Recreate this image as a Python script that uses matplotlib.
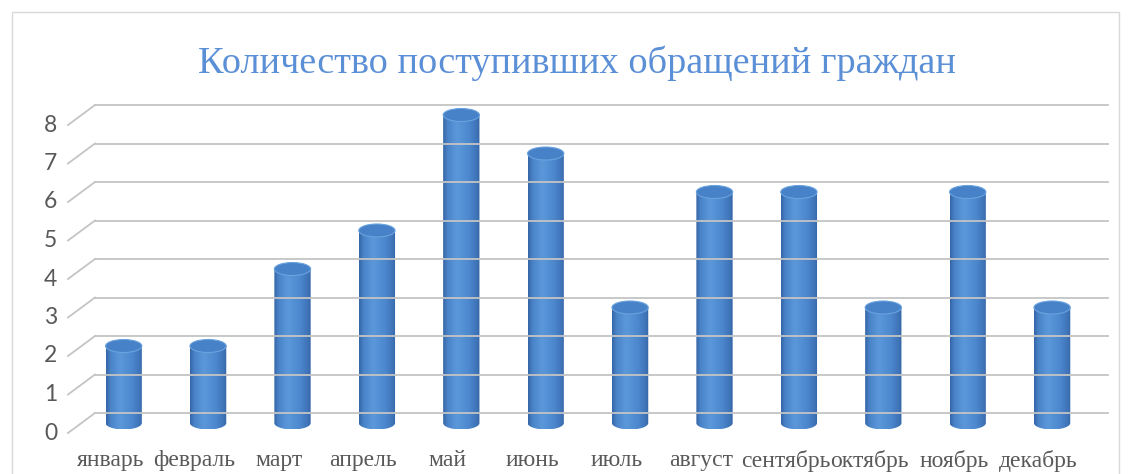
import numpy as np
import matplotlib
matplotlib.use('Agg')
import matplotlib.pyplot as plt
from matplotlib import transforms
from matplotlib.patches import PathPatch, Ellipse, Rectangle
from matplotlib.path import Path
from matplotlib.lines import Line2D
from matplotlib.colors import LinearSegmentedColormap

# данные
months = ['январь', 'февраль', 'март', 'апрель', 'май', 'июнь',
          'июль', 'август', 'сентябрь', 'октябрь', 'ноябрь', 'декабрь']
counts = [2, 2, 4, 5, 8, 7, 3, 6, 6, 3, 6, 3]
y_ticks = [0, 1, 2, 3, 4, 5, 6, 7, 8]
title = 'Количество поступивших обращений граждан'

W, H = 1130, 474
fig = plt.figure(figsize=(W / 100, H / 100), dpi=100)

# размещение осей в пикселях
ux, uy = 84.4, 38.5
x_lo, x_hi = -0.9, 11.9
y_lo, y_hi = -0.8, 8.9
left_px = 68 + (x_lo + 0.5) * ux
bottom_px = 41 + y_lo * uy
ax = fig.add_axes([left_px / W, bottom_px / H,
                   (x_hi - x_lo) * ux / W, (y_hi - y_lo) * uy / H])
ax.axis('off')

# псевдо-3D: задняя стенка и середина глубины
back = transforms.offset_copy(ax.transData, fig=fig, x=27, y=20, units='dots')
mid = transforms.offset_copy(ax.transData, fig=fig, x=13.5, y=10, units='dots')

grid_c = '#c4c4c4'
for t in y_ticks:
    ax.plot([-0.5, len(months) - 0.5], [t, t], transform=back,
            color=grid_c, lw=1.3, clip_on=False)
    ax.text(-0.63, t, str(t), ha='right', va='center', fontsize=16.5,
            color='#595959', family='Lato')

# цилиндры
cmap = LinearSegmentedColormap.from_list('cyl', [
    (0.0, '#3567a8'), (0.12, '#4a84c8'), (0.38, '#5b98da'),
    (0.7, '#4d88cf'), (0.92, '#3f74b8'), (1.0, '#3466a6')])
grad = np.linspace(0, 1, 64).reshape(1, -1)
w = 0.43
eh = 13 / uy
theta = np.linspace(0, np.pi, 40)
for i, v in enumerate(counts):
    xl, xr = i - w / 2, i + w / 2
    bx = i + (w / 2) * np.cos(theta)
    by = -(eh / 2) * np.sin(theta)
    verts = [(xl, v), (xr, v)] + list(zip(bx, by)) + [(xl, v)]
    body = PathPatch(Path(verts), transform=mid, facecolor='none', edgecolor='none')
    ax.add_patch(body)
    im = ax.imshow(grad, extent=(xl, xr, -eh / 2, v), transform=mid,
                   aspect='auto', interpolation='bilinear', cmap=cmap)
    im.set_clip_path(body)
    ax.add_patch(Ellipse((i, v), w, eh, transform=mid, facecolor='#4781c7',
                         edgecolor='#6aa3df', lw=0.8))

for i, m in enumerate(months):
    ax.text(i, -0.72, m, ha='center', va='center', fontsize=17,
            family='Liberation Serif', color='#595959')

ax.set_xlim(x_lo, x_hi)
ax.set_ylim(y_lo, y_hi)

# диагонали боковой стенки (после фиксации пределов)
for t in y_ticks:
    p0 = ax.transData.transform((-0.5, t))
    p1 = back.transform((-0.5, t))
    fig.add_artist(Line2D([p0[0], p1[0]], [p0[1], p1[1]], color=grid_c, lw=1.3,
                          transform=transforms.IdentityTransform()))

fig.text(577 / W, 1 - 63 / H, title, ha='center', va='center', fontsize=27.5,
         color='#5b8fd6', family='Liberation Serif')

fig.add_artist(Rectangle((12 / W, -0.05), 1107 / W, (H - 12) / H + 0.05,
                         transform=fig.transFigure, fill=False,
                         edgecolor='#d9d9d9', lw=1))

fig.savefig('out.png', dpi=100)
